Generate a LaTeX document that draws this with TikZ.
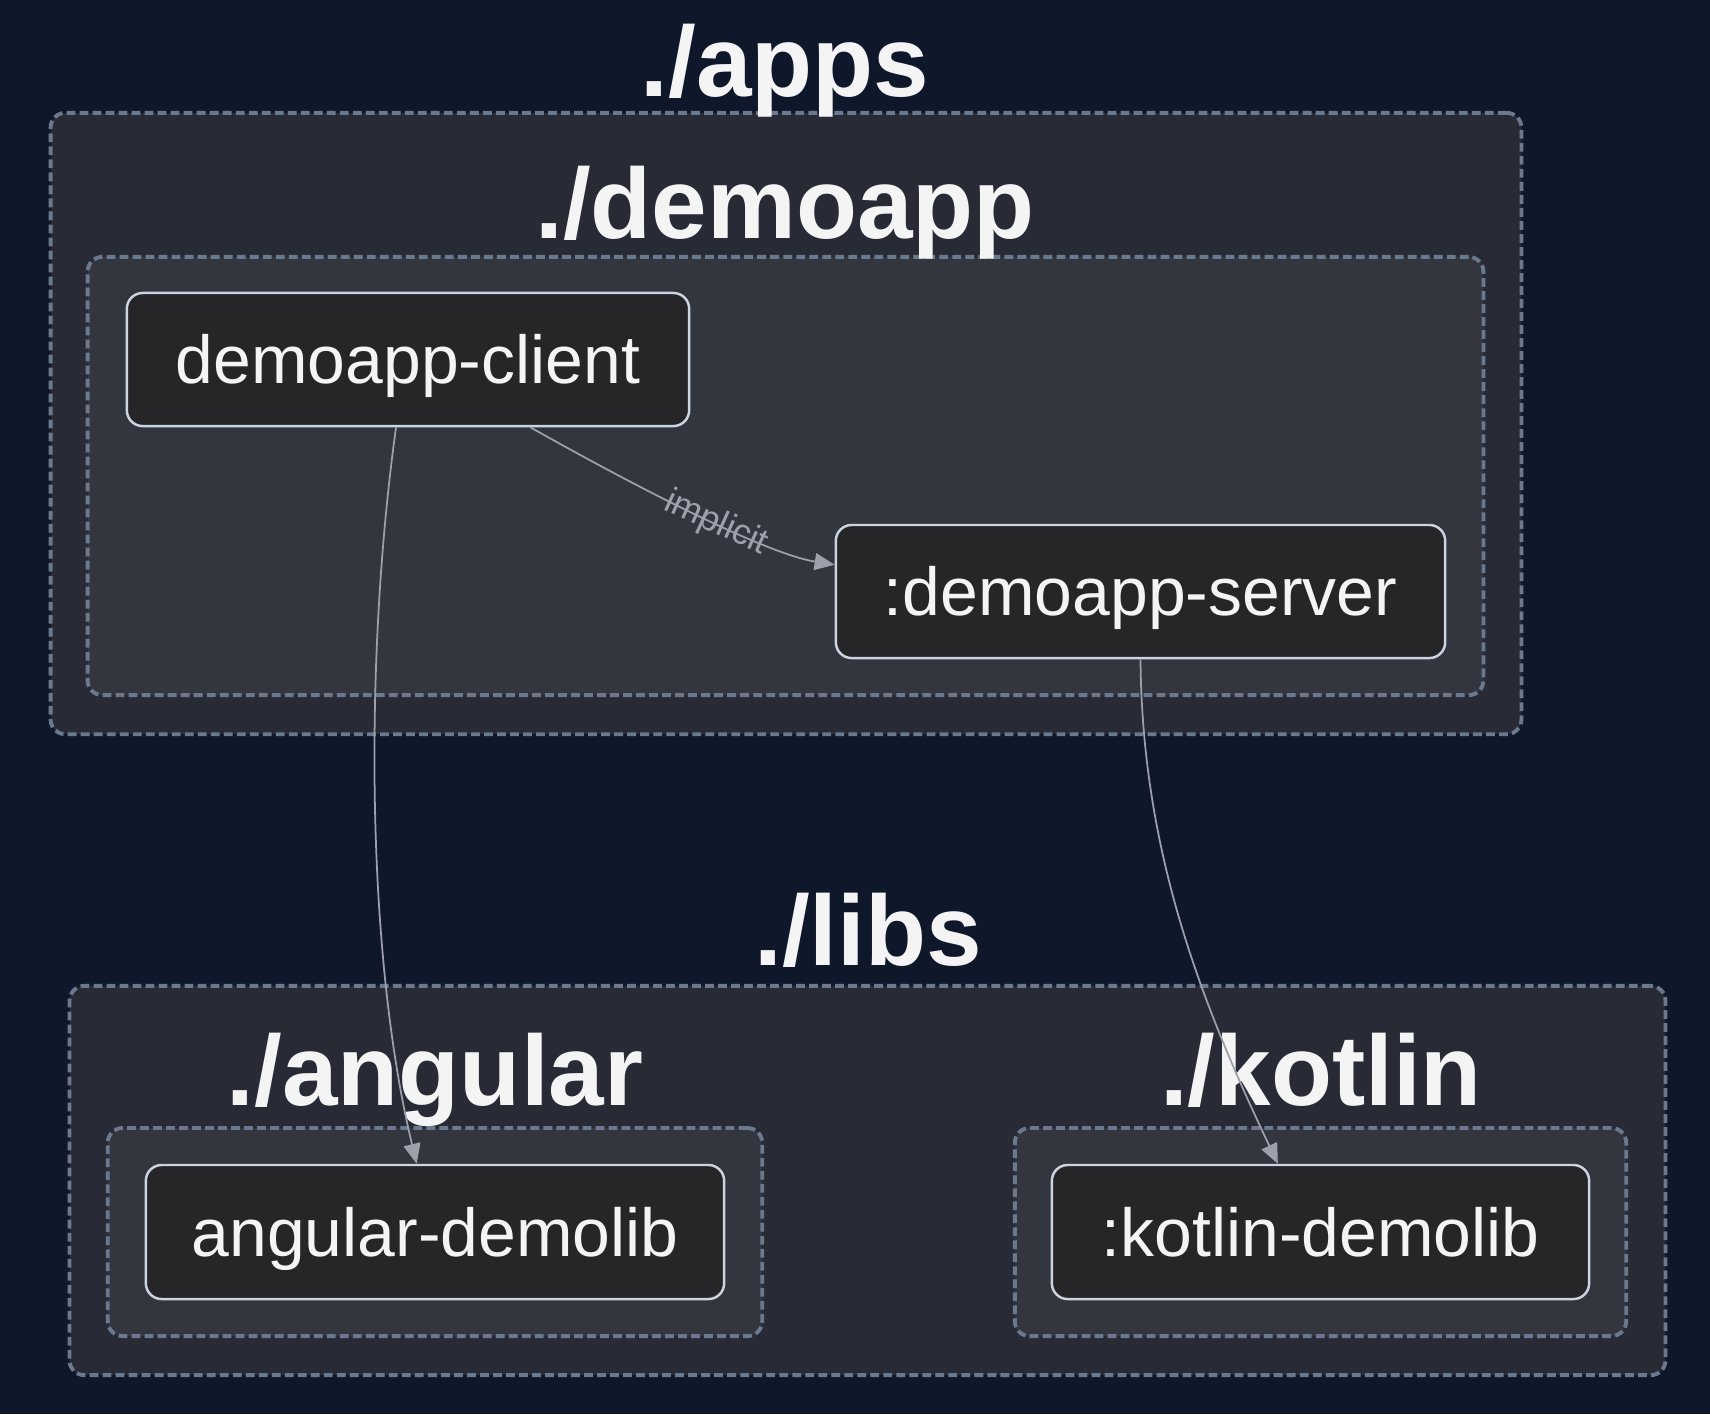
\documentclass[tikz,border=0pt]{standalone}
\usepackage{fontspec}
\setmainfont{Liberation Sans}
\definecolor{pagebg}{RGB}{15, 23, 42}
\definecolor{groupfill}{RGB}{40, 43, 54}
\definecolor{folderfill}{RGB}{51, 54, 63}
\definecolor{dashgray}{RGB}{106, 121, 141}
\definecolor{projfill}{RGB}{38, 38, 41}
\definecolor{projline}{RGB}{203, 213, 225}
\definecolor{labelwhite}{RGB}{244, 244, 245}
\definecolor{edgegray}{RGB}{156, 160, 170}
\usetikzlibrary{arrows.meta}
\tikzset{
    groupbox/.style={rectangle, rounded corners=4.2pt, draw=dashgray, fill=groupfill,
                     line width=1.1pt, dash pattern=on 2.5pt off 1.2pt},
    folderbox/.style={groupbox, fill=folderfill},
    projectbox/.style={rectangle, rounded corners=4.5pt, draw=projline, fill=projfill,
                       line width=0.7pt, text=labelwhite, text height=13.9pt, text depth=0pt,
                       font=\fontsize{19.3}{23}\selectfont},
    foldertitle/.style={anchor=base, text=labelwhite, inner sep=0pt,
                        font=\fontsize{28.4}{34}\selectfont\bfseries},
    arrow/.style={-{Triangle[length=2mm, width=1.7mm]}, line width=0.5pt, edgegray},
    edgelabel/.style={sloped, text=edgegray, inner sep=1pt, font=\fontsize{10.2}{12}\selectfont},
}
\begin{document}
\begin{tikzpicture}[x=0.01cm, y=-0.01cm]
            \fill[pagebg] (0,0) rectangle (1710,1414);
            \useasboundingbox (0,0) rectangle (1710,1414);

            \node[groupbox, minimum width=14.70cm, minimum height=6.21cm] (apps) at (786, 423.5) {};
            \node[folderbox, minimum width=13.95cm, minimum height=4.38cm] (demoapp) at (785.5, 476) {};
            \node[groupbox, minimum width=15.95cm, minimum height=3.89cm] (libs) at (867.5, 1180.5) {};
            \node[folderbox, minimum width=6.54cm, minimum height=2.08cm] (angular) at (435, 1232) {};
            \node[folderbox, minimum width=6.11cm, minimum height=2.08cm] (kotlin) at (1320.5, 1232) {};

            \node[foldertitle] (appstitle) at (785, 96) {./apps};
            \node[foldertitle] (demoapptitle) at (785, 238) {./demoapp};
            \node[foldertitle] (libstitle) at (868, 965) {./libs};
            \node[foldertitle] (angulartitle) at (435, 1105) {./angular};
            \node[foldertitle] (kotlintitle) at (1321, 1105) {./kotlin};

            \node[projectbox, minimum width=5.62cm, minimum height=1.33cm] (client) at (408, 359.5) {demoapp-client};
            \node[projectbox, minimum width=6.09cm, minimum height=1.33cm] (server) at (1140.5, 591.5) {:demoapp-server};
            \node[projectbox, minimum width=5.78cm, minimum height=1.34cm] (angularlib) at (435, 1232) {angular-demolib};
            \node[projectbox, minimum width=5.37cm, minimum height=1.34cm] (kotlinlib) at (1320.5, 1232) {:kotlin-demolib};

            \draw[arrow] (client.-100) .. controls (365, 650) and (365, 950) .. (angularlib.105);
            \draw[arrow] (client.-29.6) .. controls (690, 517) and (780, 556) .. node[edgelabel, pos=0.48] {implicit} (server.175);
            \draw[arrow] (server.south) .. controls (1142, 850) and (1200, 1000) .. (kotlinlib.122);
        \end{tikzpicture}
\end{document}
